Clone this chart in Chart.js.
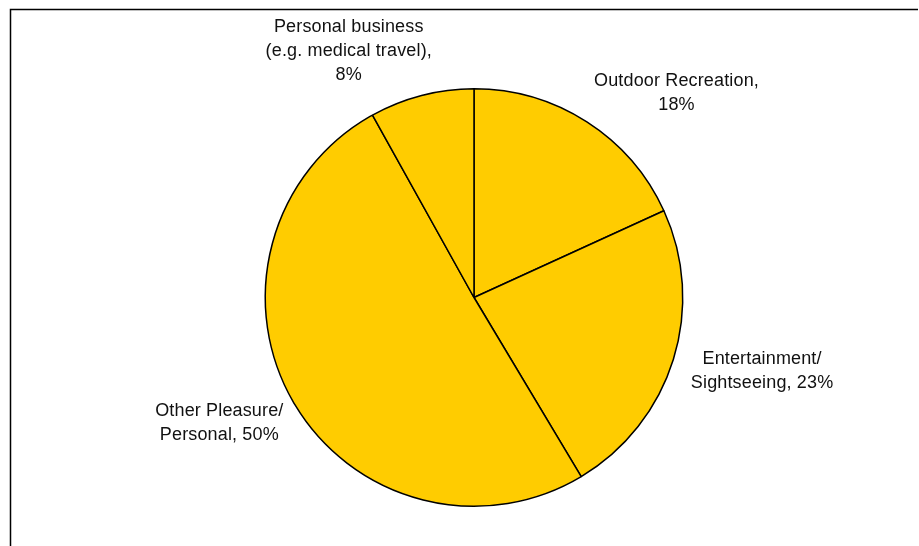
<!DOCTYPE html>
<html>
<head>
<meta charset="utf-8">
<script src="https://cdn.jsdelivr.net/npm/chart.js@4"></script>
<style>
  html, body { margin: 0; padding: 0; background: #fff; }
  #wrap { width: 919px; height: 546px; position: relative; }
</style>
</head>
<body>
<div id="wrap"><canvas id="purpose"></canvas></div>
<script>
// trip purpose shares
const categories = ["Outdoor Recreation", "Entertainment/ Sightseeing", "Other Pleasure/ Personal", "Personal business (e.g. medical travel)"];
const shares = [18, 23, 50, 8];
const labelLines = [
    ["Outdoor Recreation,", "18%"],
    ["Entertainment/", "Sightseeing, 23%"],
    ["Other Pleasure/", "Personal, 50%"],
    ["Personal business", "(e.g. medical travel),", "8%"]
];

// where each label block sits, relative to the pie centre in radii
const labelOffsets = [[0.97, -0.98], [1.38, 0.35], [-1.22, 0.60], [-0.60, -1.18]];

const framePlugin = {
    id: 'frame',
    beforeDraw(chart) {
        const ctx = chart.ctx;
        ctx.save();
        ctx.strokeStyle = '#000';
        ctx.lineWidth = 1.5;
        ctx.beginPath();
        ctx.moveTo(10.5, 546);
        ctx.lineTo(10.5, 9.5);
        ctx.lineTo(918, 9.5);
        ctx.stroke();
        ctx.restore();
    }
};

const labelPlugin = {
    id: 'sliceLabels',
    afterDatasetsDraw(chart) {
        const ctx = chart.ctx;
        const meta = chart.getDatasetMeta(0);
        ctx.save();
        ctx.font = '18px "Liberation Sans", Arial, sans-serif';
        ctx.letterSpacing = '0.15px';
        ctx.fillStyle = '#111';
        ctx.textAlign = 'center';
        ctx.textBaseline = 'middle';
        const lineH = 24;
        meta.data.forEach((arc, i) => {
            const cx = arc.x + labelOffsets[i][0] * arc.outerRadius;
            const cy = arc.y + labelOffsets[i][1] * arc.outerRadius;
            const lines = labelLines[i];
            const top = cy - (lines.length - 1) * lineH / 2;
            lines.forEach((t, j) => ctx.fillText(t, cx, top + j * lineH));
        });
        ctx.restore();
    }
};

new Chart(document.getElementById('purpose'), {
    type: 'pie',
    data: {
        labels: categories,
        datasets: [{
            data: shares,
            backgroundColor: '#FFCC00',
            borderColor: '#000',
            borderWidth: 1.5
        }]
    },
    options: {
        responsive: true,
        maintainAspectRatio: false,
        animation: false,
        layout: {
            padding: { top: 88, bottom: 39, left: 29, right: 0 }
        },
        plugins: {
            legend: { display: false },
            tooltip: { enabled: false }
        }
    },
    plugins: [framePlugin, labelPlugin]
});
</script>
</body>
</html>
